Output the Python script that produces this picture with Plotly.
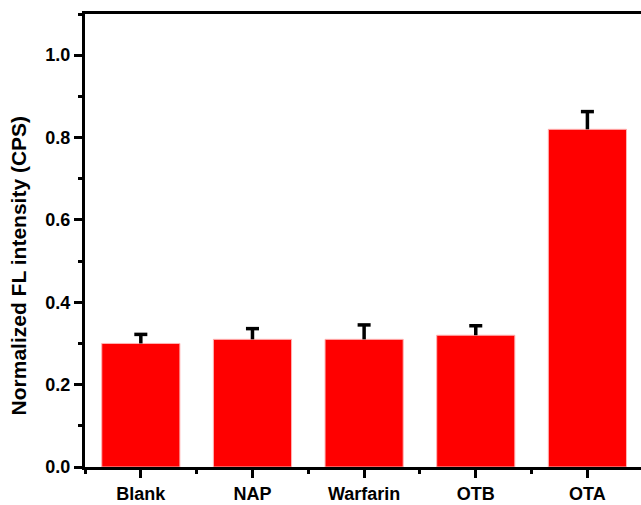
import plotly.graph_objects as go

# Samples and their normalized fluorescence (mean and upper error)
categories = ["Blank", "NAP", "Warfarin", "OTB", "OTA"]
intensity = [0.30, 0.31, 0.31, 0.32, 0.82]
error_up = [0.022, 0.026, 0.035, 0.023, 0.043]

y_ticks = [0.0, 0.2, 0.4, 0.6, 0.8, 1.0]
y_tick_labels = ["0.0", "0.2", "0.4", "0.6", "0.8", "1.0"]

positions = list(range(len(categories)))
error_tops = [v + e for v, e in zip(intensity, error_up)]

FONT = "Liberation Sans, Arial, Helvetica, sans-serif"

fig = go.Figure()

# Bars with one-sided (upward) error stems
fig.add_trace(go.Bar(
    x=positions,
    y=intensity,
    width=0.7,
    marker=dict(color="#ff0000", line=dict(color="#ffb4b4", width=1)),
    error_y=dict(type="data", symmetric=False, array=error_up,
                 arrayminus=[0] * len(error_up),
                 color="black", thickness=3.5, width=0),
    hoverinfo="skip",
    showlegend=False,
))

# Caps on the error stems
fig.add_trace(go.Scatter(
    x=positions,
    y=error_tops,
    mode="markers",
    marker=dict(symbol="line-ew", size=9.3,
                line=dict(color="black", width=3.5)),
    hoverinfo="skip",
    showlegend=False,
))

fig.update_layout(
    width=641,
    height=505,
    margin=dict(l=85, r=0, t=14, b=38),
    paper_bgcolor="white",
    plot_bgcolor="white",
    font=dict(family=FONT, color="black"),
    xaxis=dict(
        range=[-0.5, 4.48],
        automargin=False,
        tickmode="array",
        tickvals=positions,
        ticktext=categories,
        showline=True, linecolor="black", linewidth=3,
        mirror=True,
        ticks="outside", ticklen=8, tickwidth=2.5, tickcolor="black",
        minor=dict(tick0=0.5, dtick=1, ticks="outside", ticklen=4,
                   tickwidth=2.5, tickcolor="black"),
        showgrid=False, zeroline=False,
        tickfont=dict(family=FONT, size=18, weight="bold"),
        ticklabelstandoff=0,
    ),
    yaxis=dict(
        range=[0, 1.1],
        automargin=False,
        tickmode="array",
        tickvals=y_ticks,
        ticktext=y_tick_labels,
        showline=True, linecolor="black", linewidth=3,
        mirror=False,
        ticks="outside", ticklen=8, tickwidth=2.5, tickcolor="black",
        minor=dict(tick0=0.1, dtick=0.2, ticks="outside", ticklen=4,
                   tickwidth=2.5, tickcolor="black"),
        showgrid=False, zeroline=False,
        tickfont=dict(family=FONT, size=18, weight="bold"),
    ),
    annotations=[dict(
        text="Normalized FL intensity (CPS)",
        textangle=-90,
        xref="paper", yref="paper",
        x=0, y=0.445,
        xanchor="center", yanchor="middle",
        xshift=-67,
        showarrow=False,
        font=dict(family=FONT, size=21, weight="bold"),
    )],
)

fig.write_html("out.html")
